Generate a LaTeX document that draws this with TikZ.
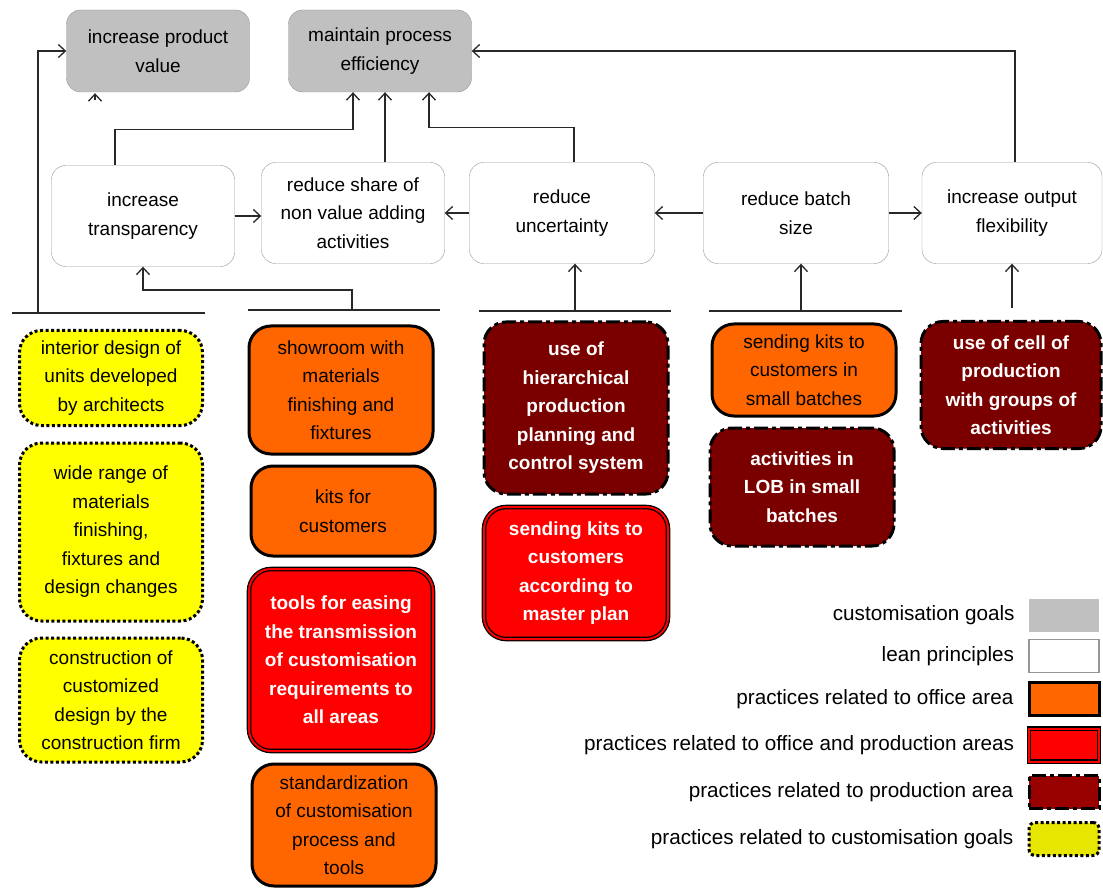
\documentclass[tikz,border=0pt]{standalone}
\usepackage{fontspec}
\setmainfont{Liberation Sans}
\usetikzlibrary{arrows.meta,positioning}
\definecolor{goalgray}{RGB}{192,192,192}
\definecolor{edgegray}{RGB}{150,150,150}
\definecolor{officeorange}{RGB}{255,102,0}
\definecolor{bothred}{RGB}{255,0,0}
\definecolor{prodred}{RGB}{122,0,0}
\definecolor{legprodred}{RGB}{153,0,0}
\definecolor{custyellow}{RGB}{255,255,0}
\definecolor{legyellow}{RGB}{230,230,0}
\definecolor{linkgray}{RGB}{40,40,40}
\newcommand{\boxfont}{\fontsize{19}{28.5}\selectfont}
\newcommand{\legfont}{\fontsize{20.7}{24}\selectfont}

\begin{document}
\begin{tikzpicture}[
  x=1pt, y=-1pt,
  every node/.style={font=\boxfont, align=center, inner sep=0pt},
  goal/.style={draw=edgegray, fill=goalgray, rounded corners=14pt, minimum width=183pt, minimum height=82pt},
  lean/.style={draw=edgegray, fill=white, rounded corners=14pt, minimum width=183pt, minimum height=101pt},
  office/.style={draw=black, line width=3pt, fill=officeorange, rounded corners=22pt, minimum width=184pt},
  both/.style={draw=black, line width=1.3pt, double=bothred, double distance=2pt, fill=bothred, text=white, font=\boxfont\bfseries, rounded corners=22pt, minimum width=184pt},
  prod/.style={draw=black, line width=3pt, dash pattern=on 14pt off 4pt on 4pt off 4pt, fill=prodred, text=white, font=\boxfont\bfseries, rounded corners=22pt, minimum width=184pt},
  cust/.style={draw=black, line width=3pt, dash pattern=on 3pt off 2.5pt, fill=custyellow, rounded corners=22pt, minimum width=183pt},
  swatch/.style={minimum width=70pt, minimum height=33pt},
  legtext/.style={font=\legfont, left=14pt of #1},
  arrow/.style={-{Straight Barb[length=7pt,width=13pt]}, line width=1.3pt, linkgray},
  link/.style={line width=1.3pt, linkgray}
]
  \useasboundingbox (0,0) rectangle (1103,890);

  % Goals
  \node (G1) [goal] at (158,51) {increase product\\value};
  \node (G2) [goal] at (380,51) {maintain process\\efficiency};

  % Lean principles
  \node (L1) [lean] at (143,216) {increase\\transparency};
  \node (L2) [lean] at (353,213) {reduce share of\\non value adding\\activities};
  \node (L3) [lean, minimum width=185pt] at (562,213) {reduce\\uncertainty};
  \node (L4) [lean, minimum width=185pt] at (796,213) {reduce batch\\size};
  \node (L5) [lean, minimum width=180pt] at (1012,213) {increase output\\flexibility};

  % Practices
  \node (Y1) [cust, minimum height=95pt] at (111,378) {interior design of\\units developed\\by architects};
  \node (Y2) [cust, minimum height=178pt] at (111,532) {wide range of\\materials\\finishing,\\fixtures and\\design changes};
  \node (Y3) [cust, minimum height=124pt] at (111,700) {construction of\\customized\\design by the\\construction firm};
  \node (O1) [office, minimum height=128pt] at (341,390) {showroom with\\materials\\finishing and\\fixtures};
  \node (O2) [office, minimum height=90pt] at (343,511) {kits for\\customers};
  \node (R1) [both, minimum height=182pt] at (341,660) {tools for easing\\the transmission\\of customisation\\requirements to\\all areas};
  \node (O3) [office, minimum height=122pt] at (344,825) {standardization\\of customisation\\process and\\tools};
  \node (P1) [prod, minimum height=172pt] at (576,408) {use of\\hierarchical\\production\\planning and\\control system};
  \node (R2) [both, minimum height=132pt] at (576,573) {sending kits to\\customers\\according to\\master plan};
  \node (O4) [office, minimum height=92pt] at (804,370) {sending kits to\\customers in\\small batches};
  \node (P2) [prod, minimum height=118pt] at (802,487) {activities in\\LOB in small\\batches};
  \node (P3) [prod, minimum width=180pt, minimum height=127pt] at (1011,385) {use of cell of\\production\\with groups of\\activities};

  % Group brackets
  \coordinate (custL) at (12,313);   \coordinate (custR) at (205,313);  \coordinate (custM) at (38,313);
  \coordinate (offL) at (248,310);   \coordinate (offR) at (440,310);   \coordinate (offM) at (352,310);
  \coordinate (uncL) at (479,311);   \coordinate (uncR) at (671,311);   \coordinate (uncM) at (575,311);
  \coordinate (batL) at (709,311);   \coordinate (batR) at (902,311);   \coordinate (batM) at (801,311);
  \coordinate (flxM) at (1012,308);
  \draw [link] (custL) -- (custR);
  \draw [link] (offL) -- (offR);
  \draw [link] (uncL) -- (uncR);
  \draw [link] (batL) -- (batR);

  % Paths
  \draw [arrow] (L1.east) -- (L1.east -| L2.west);
  \draw [arrow] (L3.west) -- (L2.east);
  \draw [arrow] (L4.west) -- (L3.east);
  \draw [arrow] (L4.east) -- (L5.west);
  \draw [arrow] ([xshift=-28pt]L1.north) -- ++(0,-36) -| ([xshift=-27pt]G2.south);
  \draw [arrow] ([xshift=32pt]L2.north) -- ([xshift=32pt]L2.north |- G2.south);
  \draw [arrow] ([xshift=12pt]L3.north) -- ++(0,-35) -| ([xshift=49pt]G2.south);
  \draw [arrow] ([xshift=3pt]L5.north) |- (G2.east);
  \draw [arrow] (custM) |- (G1.west);
  \draw [arrow] ([xshift=-63pt,yshift=-8pt]G1.south) -- ([xshift=-63pt,yshift=-1pt]G1.south);
  \draw [arrow] (offM) -- ++(0,-20) -| (L1.south);
  \draw [arrow] (uncM) -- (uncM |- L3.south);
  \draw [arrow] (batM) -- (batM |- L4.south);
  \draw [arrow] (flxM) -- (flxM |- L5.south);

  % Legend
  \node (sw1) [swatch, fill=goalgray] at (1064,615) {};
  \node (sw2) [swatch, draw=edgegray, line width=1.5pt, fill=white] at (1064,656) {};
  \node (sw3) [swatch, draw=black, line width=3pt, fill=officeorange] at (1064,699) {};
  \node (sw4) [swatch, draw=black, line width=1.3pt, double=bothred, double distance=2pt, fill=bothred] at (1064,745) {};
  \node (sw5) [swatch, draw=black, line width=3pt, dash pattern=on 14pt off 4pt on 4pt off 4pt, fill=legprodred] at (1064,792) {};
  \node (sw6) [swatch, draw=black, line width=3pt, dash pattern=on 3pt off 2.5pt, fill=legyellow, rounded corners=6pt] at (1064,839) {};
  \node [legtext=sw1] {customisation goals};
  \node [legtext=sw2] {lean principles};
  \node [legtext=sw3] {practices related to office area};
  \node [legtext=sw4] {practices related to office and production areas};
  \node [legtext=sw5] {practices related to production area};
  \node [legtext=sw6] {practices related to customisation goals};
\end{tikzpicture}
\end{document}
